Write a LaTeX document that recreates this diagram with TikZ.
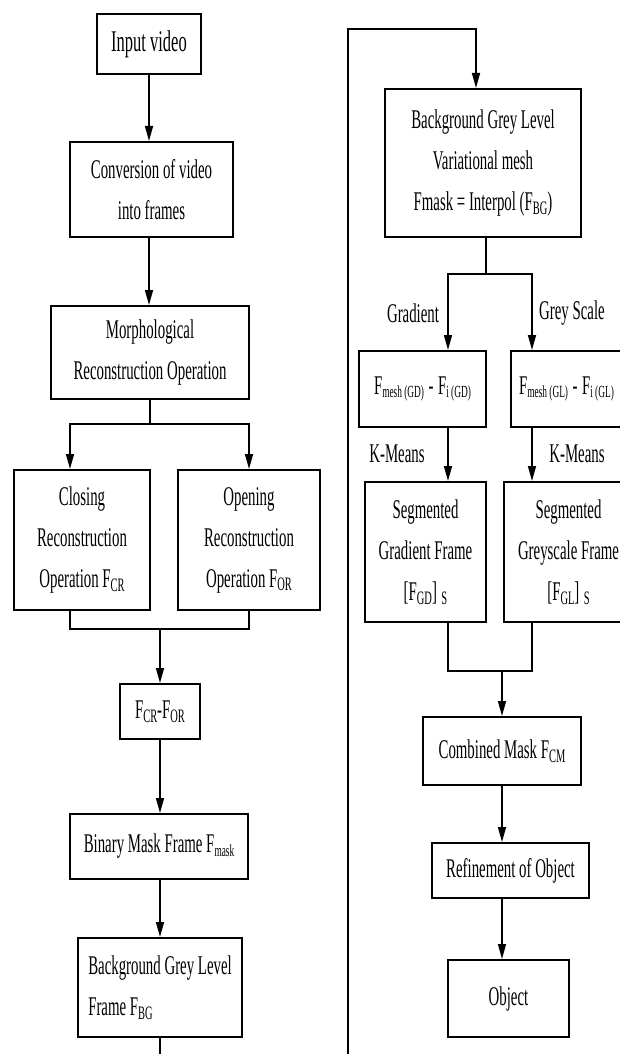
\documentclass[tikz,border=0pt]{standalone}
\usepackage{fontspec}
\setmainfont{Liberation Serif}[FakeStretch=0.55]
\usetikzlibrary{arrows.meta}
\newcommand\sbs[1]{\raisebox{-0.3ex}{\fontsize{19pt}{19pt}\selectfont #1}}
\newcommand\ssbs[1]{\raisebox{-0.3ex}{\fontsize{17pt}{17pt}\selectfont #1}}
\newcommand\fs{\fontsize{27pt}{41pt}\selectfont}
\tikzset{
  box/.style={draw, line width=2pt, inner sep=0pt, align=center, font=\fs},
  dim/.style n args={2}{minimum width=#1pt, minimum height=#2pt},
  conn/.style={line width=1.6pt},
  arr/.style={line width=1.6pt, -{Triangle[length=15pt,width=8pt]}},
  lbl/.style={inner sep=0pt, font=\fs},
}
\begin{document}
\begin{tikzpicture}[x=1pt,y=-1pt]
\useasboundingbox (0,0) rectangle (619,1054);
% left column
\node[box,dim={104}{60},font=\fontsize{30pt}{41pt}\selectfont] (in) at (149,44) {Input video};
\node[box,dim={163}{95}] (conv) at (151.5,189.5) {Conversion of video\\into frames};
\node[box,dim={198}{93}] (morph) at (150,352.5) {Morphological\\Reconstruction Operation};
\node[box,dim={136}{140}] (clos) at (82,540) {Closing\\Reconstruction\\Operation F\sbs{CR}};
\node[box,dim={142}{140}] (open) at (249,540) {Opening\\Reconstruction\\Operation F\sbs{OR}};
\node[box,dim={80}{55}] (diff) at (160,711.5) {F\sbs{CR}-F\sbs{OR}};
\node[box,dim={178}{65}] (bin) at (159,846.5) {Binary Mask Frame F\ssbs{mask}};
\node[box,dim={164}{99},align=left] (bgf) at (160,987.5) {Background Grey Level\\Frame F\sbs{BG}};
\coordinate (colL) at (70,0);
\coordinate (jt) at (150,424);
\coordinate (jb) at (160,629);
\coordinate (endL) at (160,1054);
\draw[arr] (in.south) -- (in.south |- conv.north);
\draw[arr] (in.south |- conv.south) -- (in.south |- morph.north);
\draw[conn] (morph.south) -- (jt);
\draw[arr] (jt) -| (clos.north -| colL);
\draw[arr] (jt) -| (open.north);
\draw[conn] (clos.south -| colL) |- (jb) -| (open.south);
\draw[arr] (jb) -- (diff.north);
\draw[arr] (diff.south) -- (diff.south |- bin.north);
\draw[arr] (diff.south |- bin.south) -- (diff.south |- bgf.north);
\draw[conn] (bgf.south) -- (endL);
% right column
\coordinate (startR) at (348,1054);
\coordinate (topR) at (348,29);
\coordinate (colM) at (476,0);
\coordinate (colA) at (448,0);
\coordinate (colB) at (532,0);
\coordinate (jm) at (486,274);
\coordinate (jc) at (502,671);
\node[box,dim={196}{148}] (mesh) at (483,163) {Background Grey Level\\Variational mesh\\Fmask = Interpol (F\sbs{BG})};
\node[box,dim={127}{76}] (gd) at (422.5,389) {F\ssbs{mesh (GD)}\,-\,F\ssbs{i (GD)}};
\node[box,dim={111}{76}] (gl) at (566.5,389) {F\ssbs{mesh (GL)}\,-\,F\ssbs{i (GL)}};
\node[box,dim={121}{140}] (sgd) at (425.5,552) {Segmented\\Gradient Frame\\{}[F\sbs{GD}]\,\sbs{S}};
\node[box,dim={129}{140}] (sgl) at (568.5,552) {Segmented\\Greyscale Frame\\{}[F\sbs{GL}]\,\sbs{S}};
\node[box,dim={158}{68}] (comb) at (502,751) {Combined Mask F\sbs{CM}};
\node[box,dim={157}{55}] (ref) at (510.5,870.5) {Refinement of Object};
\node[box,dim={121}{77}] (obj) at (508.5,998.5) {Object};
\node[lbl] (lg) at (413,313) {Gradient};
\node[lbl] (ls) at (572,313) {Grey Scale};
\node[lbl] (lk1) at (397,454) {K-Means};
\node[lbl] (lk2) at (577,454) {K-Means};
\draw[arr] (startR) -- (topR) -| (mesh.north -| colM);
\draw[conn] (mesh.south -| jm) -- (jm);
\draw[arr] (jm) -| (gd.north -| colA);
\draw[arr] (jm) -| (gl.north -| colB);
\draw[arr] (gd.south -| colA) -- (sgd.north -| colA);
\draw[arr] (gl.south -| colB) -- (sgl.north -| colB);
\draw[conn] (sgd.south -| colA) |- (jc) -| (sgl.south -| colB);
\draw[arr] (jc) -- (comb.north);
\draw[arr] (comb.south) -- (comb.south |- ref.north);
\draw[arr] (comb.south |- ref.south) -- (comb.south |- obj.north);
\end{tikzpicture}
\end{document}
